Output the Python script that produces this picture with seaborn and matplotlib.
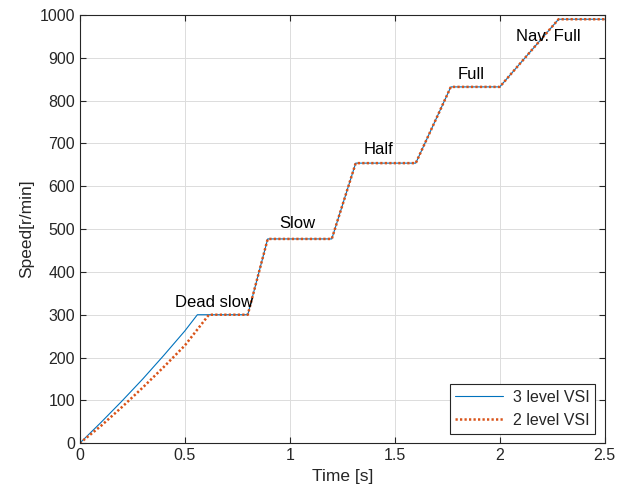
import numpy as np
import pandas as pd
import seaborn as sns
import matplotlib.pyplot as plt

# speed reference steps
t3 = [0, 0.1, 0.2, 0.3, 0.4, 0.5, 0.56, 0.8, 0.895, 1.2, 1.314, 1.6, 1.767, 2.0, 2.28, 2.5]
v3 = [0, 48, 98, 150, 205, 262, 300, 300, 477, 477, 654, 654, 832, 832, 990, 990]

t2 = [0, 0.1, 0.2, 0.3, 0.4, 0.5, 0.615, 0.8, 0.895, 1.2, 1.314, 1.6, 1.767, 2.0, 2.28, 2.5]
v2 = [0, 40, 84, 130, 178, 228, 300, 300, 477, 477, 654, 654, 832, 832, 990, 990]

labels = ['Dead slow', 'Slow', 'Half', 'Full', 'Nav. Full']
label_x = [0.452, 0.95, 1.35, 1.80, 2.076]
label_y = [329, 512, 685, 860, 950]

sns.set_style('ticks')
plt.rcParams['font.family'] = ['Liberation Sans', 'DejaVu Sans']

fig = plt.figure(figsize=(6.28, 4.98), dpi=100)
ax = fig.add_axes([0.127, 0.110, 0.836, 0.860])

sns.lineplot(x=t3, y=v3, ax=ax, color='#0072BD', linewidth=0.8, label='3 level VSI')
sns.lineplot(x=t2, y=v2, ax=ax, color='#D95319', linewidth=1.8, linestyle=(0, (0.9, 0.9)),
             label='2 level VSI')

for txt, x, y in zip(labels, label_x, label_y):
    ax.text(x, y, txt, ha='left', va='center', fontsize=12, color='black')

ax.set_xlim(0, 2.5)
ax.set_ylim(0, 1000)
ax.set_xticks(np.arange(0, 2.51, 0.5))
ax.set_xticklabels(['0', '0.5', '1', '1.5', '2', '2.5'])
ax.set_yticks(np.arange(0, 1001, 100))
ax.grid(True, color='#dcdcdc', linewidth=0.7)
ax.tick_params(direction='in', top=True, right=True, labelsize=11.5, length=4, color='#262626',
               labelcolor='#262626')
for s in ax.spines.values():
    s.set_color('#262626')
    s.set_linewidth(0.8)
ax.set_xlabel('Time [s]', fontsize=12.5, color='#262626')
ax.set_ylabel('Speed[r/min]', fontsize=12.5, color='#262626')

leg = ax.legend(loc='lower right', fontsize=11.5, frameon=True, fancybox=False, framealpha=1,
                edgecolor='#262626', handlelength=3.0, handletextpad=0.6, borderpad=0.35,
                borderaxespad=0.6)
leg.get_frame().set_linewidth(0.8)
for t in leg.get_texts():
    t.set_color('#262626')

fig.savefig('out.png', dpi=100)
